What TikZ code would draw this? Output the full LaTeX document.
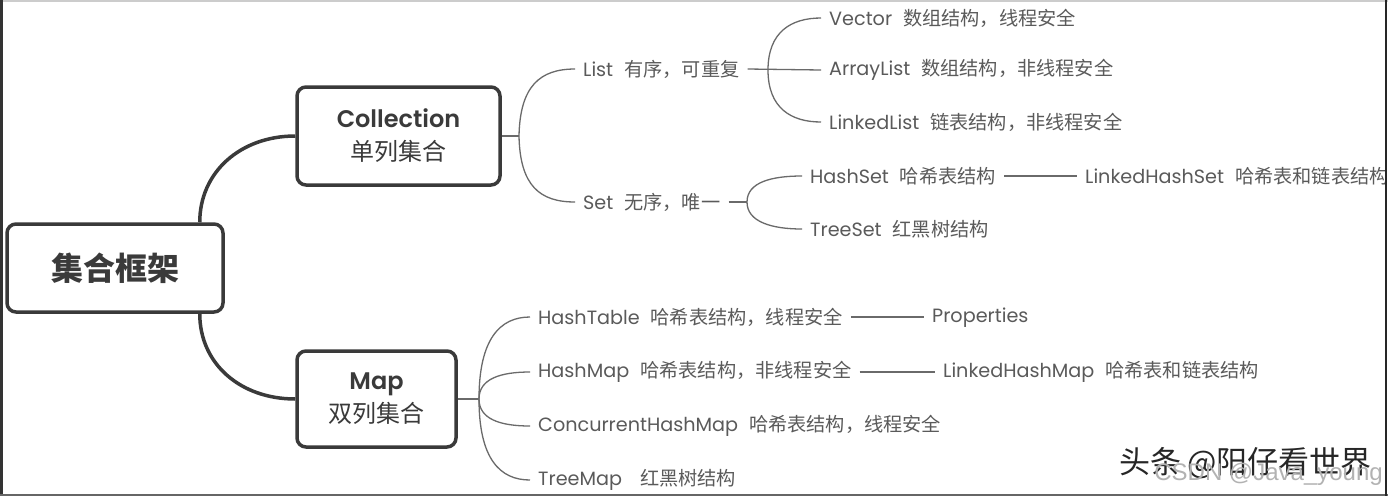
\documentclass[tikz,border=0pt]{standalone}
\usepackage{fontspec}
\setmainfont{Poppins}
\newfontfamily\popmed{Poppins SemiBold}
\newfontfamily\cjk{Noto Sans CJK SC}
\newfontfamily\libsans{Liberation Sans}
\definecolor{boxc}{HTML}{3A3A3A}
\definecolor{txtc}{HTML}{5A5A5A}
\definecolor{linec}{HTML}{6A6A6A}
\newcommand\zh[1]{{\cjk #1}}
\newcommand\gap{\hspace*{11pt}}
\begin{document}
\begin{tikzpicture}[x=1pt,y=-1pt,
  bigbox/.style={draw=boxc,line width=3.5pt,rounded corners=9pt,fill=white,align=center,text=boxc,inner sep=0pt},
  lbl/.style={anchor=west,inner xsep=8pt,inner ysep=0pt,text=txtc,font=\fontsize{19.2}{22}\selectfont},
  thinline/.style={draw=linec,line width=1.3pt},
  thickline/.style={draw=boxc,line width=3.5pt}]
\useasboundingbox (0,0) rectangle (1388,496);
\fill[white] (0,0) rectangle (1388,496);

% main boxes
\node[bigbox,minimum width=216pt,minimum height=88pt,font=\cjk\bfseries\fontsize{32}{36}\selectfont] (root) at (115,268) {集合框架};
\node[bigbox,minimum width=203pt,minimum height=98pt,font=\fontsize{24}{33}\selectfont] (coll) at (398.5,136) {{\popmed Collection}\\{\cjk\fontsize{24}{33}\selectfont 单列集合}};
\node[bigbox,minimum width=159pt,minimum height=96pt,font=\fontsize{24}{33}\selectfont] (map) at (376.5,399) {{\popmed Map}\\{\cjk\fontsize{24}{33}\selectfont 双列集合}};

% labels
\node[lbl] (list) at (575,69) {List\gap\zh{有序，可重复}};
\node[lbl] (set) at (575,202) {Set\gap\zh{无序，唯一}};
\node[lbl] (vec) at (821,18) {Vector\gap\zh{数组结构，线程安全}};
\node[lbl] (arr) at (821,70) {ArrayList\gap\zh{数组结构，非线程安全}};
\node[lbl] (lnk) at (821,122) {LinkedList\gap\zh{链表结构，非线程安全}};
\node[lbl] (hs) at (802,176) {HashSet\gap\zh{哈希表结构}};
\node[lbl] (ts) at (802,229) {TreeSet\gap\zh{红黑树结构}};
\begin{scope}
\clip (0,0) rectangle (1385,496);
\node[lbl] (lhs) at (1077,176) {LinkedHashSet\gap\zh{哈希表和链表结构}};
\end{scope}
\node[lbl] (ht) at (530,317) {HashTable\gap\zh{哈希表结构，线程安全}};
\node[lbl] (hm) at (530,372) {HashMap\gap\zh{哈希表结构，非线程安全}};
\node[lbl] (chm) at (530,426) {ConcurrentHashMap\gap\zh{哈希表结构，线程安全}};
\node[lbl] (tm) at (530,480) {TreeMap\hspace*{18pt}\zh{红黑树结构}};
\node[lbl] (prop) at (924,317) {Properties\vphantom{\zh{哈}}};
\node[lbl] (lhm) at (935,372) {LinkedHashMap\gap\zh{哈希表和链表结构}};

% branch points
\coordinate (cb) at (519,136);
\coordinate (lb) at (768,70);
\coordinate (sb) at (747,202);
\coordinate (mb) at (479,399);

% thick connectors
\draw[thickline] ([xshift=-25pt]root.north east) .. controls +(0,-50) and +(-55,0) .. (coll.west);
\draw[thickline] ([xshift=-25pt]root.south east) .. controls +(0,50) and +(-55,0) .. (map.west);

% collection branches
\draw[thinline] (coll.east) -- (cb);
\draw[thinline] (cb) .. controls +(1,-50) and +(-35,0) .. (list.west);
\draw[thinline] (cb) .. controls +(1,50) and +(-35,0) .. (set.west);
\draw[thinline] (list.east) -- (arr.west);
\draw[thinline] (lb) .. controls +(0,-38) and +(-30,0) .. (vec.west);
\draw[thinline] (lb) .. controls +(0,38) and +(-30,0) .. (lnk.west);
\draw[thinline] (set.east) -- (sb);
\draw[thinline] (sb) .. controls +(0,-20) and +(-30,0) .. (hs.west);
\draw[thinline] (sb) .. controls +(0,20) and +(-30,0) .. (ts.west);
\draw[thinline] (hs.east) -- (lhs.west);

% map branches
\draw[thinline] (map.east) -- (mb);
\draw[thinline] (mb) .. controls +(0,-60) and +(-30,0) .. (ht.west);
\draw[thinline] (mb) .. controls +(0,-20) and +(-30,0) .. (hm.west);
\draw[thinline] (mb) .. controls +(0,20) and +(-30,0) .. (chm.west);
\draw[thinline] (mb) .. controls +(0,60) and +(-30,0) .. (tm.west);
\draw[thinline] (ht.east) -- (prop.west);
\draw[thinline] (hm.east) -- (lhm.west);

% watermarks
\node[anchor=east,inner sep=0pt,font=\cjk\fontsize{31}{34}\selectfont,text=black!85] (wma) at (1372,463) {头条\hspace*{6pt}@阳仔看世界};
\node[anchor=east,inner sep=0pt,font=\libsans\fontsize{24}{26}\selectfont,text=black!30] (wmb) at (1383,474) {CSDN @Java\_young};

% frame
\draw[black!20,line width=1.5pt] (0,0.75) -- (1388,0.75);
\draw[black!80,line width=2.5pt] (1.25,0) -- (1.25,496);
\draw[black!60,line width=2pt] (0,494.5) -- (1388,494.5);
\draw[black!85,line width=2.5pt] (1386,0) -- (1386,496);
\end{tikzpicture}
\end{document}
